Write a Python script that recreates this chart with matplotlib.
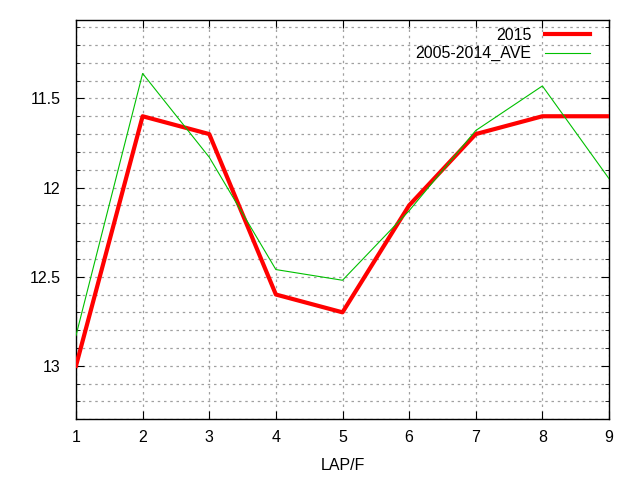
import matplotlib
matplotlib.use("Agg")
import matplotlib.pyplot as plt
from matplotlib.ticker import MultipleLocator

laps = [1, 2, 3, 4, 5, 6, 7, 8, 9]
y2015 = [13.0, 11.6, 11.7, 12.6, 12.7, 12.1, 11.7, 11.6, 11.6]
ave = [12.83, 11.36, 11.83, 12.46, 12.52, 12.13, 11.68, 11.43, 11.95]
xticks = [1, 2, 3, 4, 5, 6, 7, 8, 9]
yticks = [11.5, 12, 12.5, 13]
ytick_labels = ["11.5", "12", "12.5", "13"]

plt.rcParams['font.family'] = ['Liberation Sans', 'DejaVu Sans']

fig = plt.figure(figsize=(6.4, 4.8), dpi=100)
ax = fig.add_axes([76/640, 1-419.3/480, (609-76)/640, (419.3-20)/480])

ax.plot(laps, y2015, color='#ff0000', lw=3.0, label='2015', zorder=3)
ax.plot(laps, ave, color='#00c000', lw=0.8, label='2005-2014_AVE', zorder=3)

ax.set_xlim(1, 9)
ax.set_ylim(13.3, 11.06)
ax.set_xticks(xticks)
ax.set_yticks(yticks)
ax.set_yticklabels(ytick_labels)
ax.yaxis.set_minor_locator(MultipleLocator(0.1))

ax.grid(True, which='major', color='#a0a0a0', linestyle=(0, (2, 3)), lw=0.9)
ax.grid(True, which='minor', axis='y', color='#a0a0a0', linestyle=(0, (2, 3)), lw=0.9)

ax.tick_params(which='both', direction='in', top=True, right=True, labelsize=11.5, color='black')
ax.tick_params(which='major', length=6)
ax.tick_params(axis='y', which='major', pad=11)
ax.tick_params(axis='x', which='major', pad=8)
ax.tick_params(which='minor', length=3)
for s in ax.spines.values():
    s.set_linewidth(1.0)

ax.set_xlabel('LAP/F', fontsize=11.5, labelpad=9)

leg = ax.legend(loc='upper right', frameon=False, markerfirst=False, fontsize=11.5,
                handlelength=2.8, borderaxespad=0.1, labelspacing=0.2,
                handletextpad=0.85, bbox_to_anchor=(0.979, 1.0))
for t in leg.get_texts():
    t.set_ha('right')

fig.savefig('out.png', dpi=100)
